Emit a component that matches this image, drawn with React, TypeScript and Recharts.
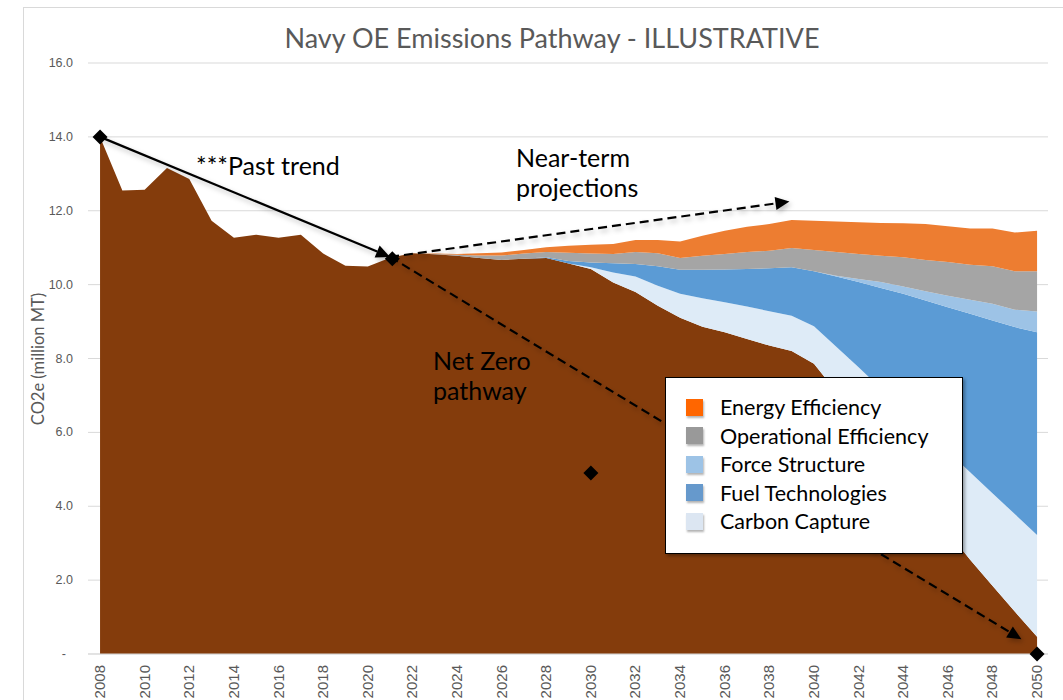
import React from 'react';
import { ComposedChart, Area, XAxis, YAxis, CartesianGrid, ReferenceLine, ReferenceDot } from 'recharts';

// years on the x axis
const years = Array.from({ length: 43 }, (_, i) => 2008 + i);
const xTicks = [2008, 2010, 2012, 2014, 2016, 2018, 2020, 2022, 2024, 2026, 2028, 2030, 2032, 2034, 2036, 2038, 2040, 2042, 2044, 2046, 2048, 2050];
const yTicks = [0, 2, 4, 6, 8, 10, 12, 14, 16];

// emissions after reductions (brown), 2008-2050
const remaining = [
  14.0, 12.55, 12.57, 13.16, 12.86, 11.73, 11.27, 11.35, 11.27, 11.35,
  10.84, 10.51, 10.49, 10.73, 10.85, 10.82, 10.78, 10.72, 10.67, 10.70,
  10.72, 10.57, 10.42, 10.06, 9.80, 9.43, 9.10, 8.86, 8.71, 8.53,
  8.35, 8.20, 7.86, 7.10, 6.35, 5.60, 4.85, 4.10, 3.30, 2.55,
  1.85, 1.15, 0.47,
];

// reduction wedges, 2022-2050
const projStart = 2022;
const carbonCapture = [0, 0, 0, 0, 0, 0, 0, 0, 0.05, 0.27, 0.42, 0.54, 0.65, 0.77, 0.81, 0.88, 0.93, 0.96, 1.01, 1.22, 1.41, 1.59, 1.77, 1.96, 2.19, 2.37, 2.5, 2.64, 2.75];
const fuelTech = [0, 0, 0, 0, 0, 0, 0.02, 0.07, 0.13, 0.25, 0.34, 0.53, 0.65, 0.77, 0.89, 1.01, 1.16, 1.31, 1.49, 1.9, 2.31, 2.72, 3.13, 3.51, 3.9, 4.29, 4.68, 5.06, 5.49];
const forceStructure = [0, 0, 0, 0, 0, 0, 0, 0, 0, 0, 0, 0, 0, 0, 0, 0, 0, 0, 0, 0.02, 0.08, 0.16, 0.2, 0.25, 0.31, 0.38, 0.45, 0.47, 0.56];
const operational = [0, 0.01, 0.03, 0.07, 0.12, 0.14, 0.14, 0.22, 0.24, 0.25, 0.32, 0.35, 0.32, 0.38, 0.42, 0.46, 0.48, 0.52, 0.58, 0.64, 0.68, 0.71, 0.79, 0.85, 0.91, 0.95, 1.02, 1.04, 1.09];
const energy = [0, 0.01, 0.02, 0.06, 0.08, 0.1, 0.13, 0.19, 0.24, 0.27, 0.33, 0.36, 0.45, 0.54, 0.63, 0.69, 0.72, 0.76, 0.79, 0.83, 0.86, 0.89, 0.92, 0.97, 0.97, 0.98, 1.02, 1.05, 1.1];

const proj = (arr: number[], yr: number) => (yr < projStart ? 0 : arr[yr - projStart]);

const data = years.map((yr, i) => ({
  year: yr,
  base: remaining[i],
  cc: proj(carbonCapture, yr),
  ft: proj(fuelTech, yr),
  fs: proj(forceStructure, yr),
  oe: proj(operational, yr),
  ee: proj(energy, yr),
}));

// bottom to top stacking order
const series = [
  { key: 'base', color: '#843C0C' },
  { key: 'cc', color: '#DEEBF7' },
  { key: 'ft', color: '#5B9BD5' },
  { key: 'fs', color: '#9DC3E6' },
  { key: 'oe', color: '#A5A5A5' },
  { key: 'ee', color: '#ED7D31' },
];

const legendItems = [
  { name: 'Energy Efficiency', color: '#FF6600' },
  { name: 'Operational Efficiency', color: '#999999' },
  { name: 'Force Structure', color: '#9DC3E6' },
  { name: 'Fuel Technologies', color: '#6699CC' },
  { name: 'Carbon Capture', color: '#DCE6F2' },
];

// annotation arrows and markers
const pastTrend = [{ x: 2008, y: 14.0 }, { x: 2021, y: 10.75 }];
const nearTerm = [{ x: 2021, y: 10.75 }, { x: 2038.9, y: 12.25 }];
const netZero = [{ x: 2021, y: 10.75 }, { x: 2049.3, y: 0.4 }];
const markers = [{ x: 2008, y: 14.0 }, { x: 2021.1, y: 10.7 }, { x: 2030, y: 4.9 }, { x: 2050, y: 0 }];

const uiFont = 'Lato, "Open Sans", sans-serif';
const tickFont = '"Liberation Sans", Arial, sans-serif';

const arrow = (dashed: boolean) => (p: any) => {
  const { x1, y1, x2, y2 } = p;
  const a = Math.atan2(y2 - y1, x2 - x1);
  const len = 14, half = 6.5;
  const bx = x2 - len * Math.cos(a);
  const by = y2 - len * Math.sin(a);
  const pts = `${x2},${y2} ${bx + half * Math.sin(a)},${by - half * Math.cos(a)} ${bx - half * Math.sin(a)},${by + half * Math.cos(a)}`;
  return (
    <g filter="url(#arrowShadow)">
      <defs>
        <filter id="arrowShadow" x="-20%" y="-20%" width="140%" height="140%">
          <feDropShadow dx="2" dy="3" stdDeviation="2.5" floodColor="#000" floodOpacity="0.25" />
        </filter>
      </defs>
      <line x1={x1} y1={y1} x2={bx} y2={by} stroke="#000" strokeWidth={2.2} strokeDasharray={dashed ? '9 5' : undefined} />
      <polygon points={pts} fill="#000" />
    </g>
  );
};

const diamond = (p: any) => {
  const { cx, cy } = p;
  const r = 7.5;
  return <polygon points={`${cx},${cy - r} ${cx + r},${cy} ${cx},${cy + r} ${cx - r},${cy}`} fill="#000" />;
};

const XTick = (props: any) => {
  const { x, y, payload } = props;
  return (
    <text x={0} y={0} transform={`translate(${x + 5},${y + 11}) rotate(-90)`} textAnchor="end" fill="#595959" fontSize={15} fontFamily={tickFont}>
      {payload.value}
    </text>
  );
};

const YTick = (props: any) => {
  const { x, y, payload } = props;
  const v = payload.value;
  return (
    <text x={v === 0 ? x - 22 : x - 15} y={y} dy={4} textAnchor="end" fill="#595959" fontSize={12.5} fontFamily={tickFont}>
      {v === 0 ? '-' : v.toFixed(1)}
    </text>
  );
};

const noteStyle: React.CSSProperties = { position: 'absolute', fontFamily: uiFont, fontSize: 25, lineHeight: '30px', color: '#000', whiteSpace: 'nowrap' };

export default function App() {
  return (
    <div style={{ position: 'absolute', left: 0, top: 0, width: 1063, height: 700, overflow: 'hidden', background: '#fff' }}>
      <div style={{ position: 'absolute', left: 23, top: 7, width: 1100, height: 760, border: '1px solid #D9D9D9' }} />
      <ComposedChart width={1063} height={720} data={data} margin={{ top: 63, right: 15, bottom: 16, left: 28 }}>
        <CartesianGrid horizontal vertical={false} stroke="#D9D9D9" />
        <XAxis
          dataKey="year"
          type="number"
          domain={[2007.46, 2050.49]}
          allowDataOverflow
          ticks={xTicks}
          interval={0}
          tick={<XTick />}
          tickLine={false}
          tickSize={0}
          tickMargin={0}
          height={50}
          axisLine={{ stroke: '#D9D9D9' }}
        />
        <YAxis
          type="number"
          domain={[0, 16]}
          ticks={yTicks}
          width={60}
          tick={<YTick />}
          tickLine={false}
          tickSize={0}
          tickMargin={0}
          axisLine={false}
        />
        {series.map(s => (
          <Area
            key={s.key}
            type="linear"
            dataKey={s.key}
            stackId="a"
            fill={s.color}
            fillOpacity={1}
            stroke="none"
            dot={false}
            activeDot={false}
            isAnimationActive={false}
          />
        ))}
        {markers.map((m, i) => (
          <ReferenceDot key={i} x={m.x} y={m.y} r={7} ifOverflow="visible" shape={diamond} />
        ))}
        <ReferenceLine segment={pastTrend} ifOverflow="visible" shape={arrow(false)} />
        <ReferenceLine segment={nearTerm} ifOverflow="visible" shape={arrow(true)} />
        <ReferenceLine segment={netZero} ifOverflow="visible" shape={arrow(true)} />
      </ComposedChart>

      <div style={{ position: 'absolute', left: 552, top: 22, transform: 'translateX(-50%)', whiteSpace: 'nowrap', fontFamily: uiFont, fontSize: 27, lineHeight: '32px', color: '#595959' }}>
        Navy OE Emissions Pathway - ILLUSTRATIVE
      </div>
      <div style={{ position: 'absolute', left: 38, top: 359, transform: 'translate(-50%,-50%) rotate(-90deg)', whiteSpace: 'nowrap', fontFamily: uiFont, fontSize: 16.5, color: '#595959' }}>
        CO2e (million MT)
      </div>

      <div style={{ ...noteStyle, left: 196, top: 150 }}>***Past trend</div>
      <div style={{ ...noteStyle, left: 516, top: 142 }}>
        Near-term<br />projections
      </div>
      <div style={{ ...noteStyle, left: 433, top: 345 }}>
        Net Zero<br />pathway
      </div>

      <div style={{ position: 'absolute', left: 665, top: 377, width: 298, height: 177, background: '#fff', border: '1.5px solid #000', boxShadow: '2px 2px 3px rgba(0,0,0,0.35)', boxSizing: 'border-box', paddingTop: 15 }}>
        {legendItems.map(it => (
          <div key={it.name} style={{ display: 'flex', alignItems: 'center', height: 28.5, paddingLeft: 20 }}>
            <div style={{ width: 17, height: 17, background: it.color, boxShadow: '1px 2px 2px rgba(0,0,0,0.3)', marginRight: 17 }} />
            <span style={{ fontFamily: uiFont, fontSize: 21.5, color: '#000', whiteSpace: 'nowrap' }}>{it.name}</span>
          </div>
        ))}
      </div>
    </div>
  );
}
